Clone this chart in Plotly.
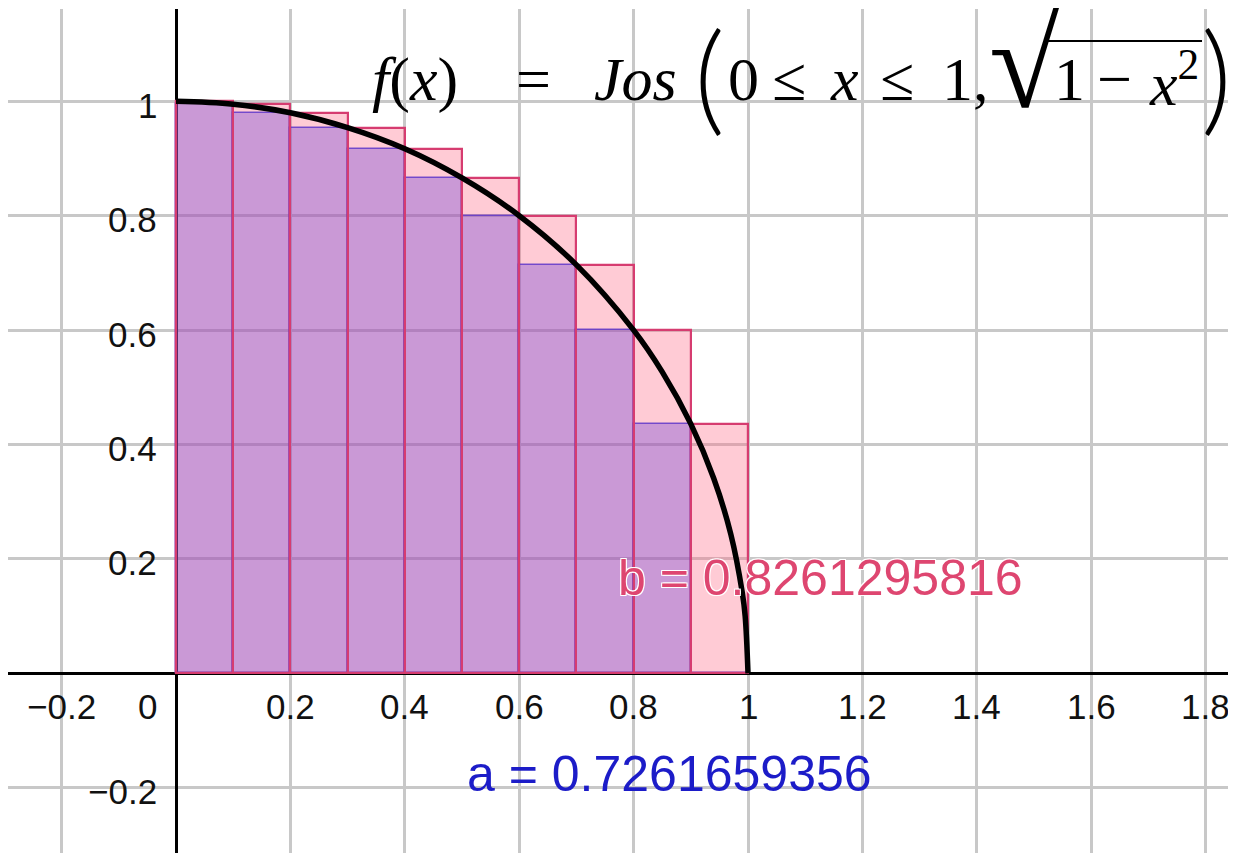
import plotly.graph_objects as go

# ---- data ----
bar_left = [0.0, 0.1, 0.2, 0.3, 0.4, 0.5, 0.6, 0.7, 0.8, 0.9]
upper_heights = [1.000, 0.995, 0.980, 0.954, 0.917, 0.866, 0.800, 0.714, 0.600, 0.436]
lower_heights = [0.995, 0.980, 0.954, 0.917, 0.866, 0.800, 0.714, 0.600, 0.436, 0.000]
curve_x = [0.0, 0.1, 0.2, 0.3, 0.4, 0.5, 0.6, 0.7, 0.8, 0.85, 0.9, 0.94, 0.97, 0.99, 0.995, 1.0]
curve_y = [1.0, 0.995, 0.980, 0.954, 0.917, 0.866, 0.800, 0.714, 0.600, 0.527, 0.436, 0.341, 0.243, 0.141, 0.100, 0.0]
x_tick_vals = [-0.2, 0.2, 0.4, 0.6, 0.8, 1.0, 1.2, 1.4, 1.6, 1.8]
x_tick_text = ["\u22120.2", "0.2", "0.4", "0.6", "0.8", "1", "1.2", "1.4", "1.6", "1.8"]
y_tick_vals = [-0.2, 0.2, 0.4, 0.6, 0.8, 1.0]
y_tick_text = ["\u22120.2", "0.2", "0.4", "0.6", "0.8", "1"]
label_a = "a = 0.7261659356"
label_b = "b = 0.8261295816"

PINK_LINE = "rgb(214,60,112)"
fig = go.Figure()
fig.add_trace(go.Bar(x=bar_left, y=upper_heights, width=0.1, offset=0,
                     marker=dict(color="rgba(255,105,135,0.35)", line=dict(width=0)),
                     showlegend=False, hoverinfo="skip"))
fig.add_trace(go.Bar(x=bar_left, y=lower_heights, width=0.1, offset=0,
                     marker=dict(color="rgba(100,55,216,0.34)",
                                 line=dict(color="rgba(90,50,200,0.8)", width=1.5)),
                     showlegend=False, hoverinfo="skip"))
fig.add_trace(go.Bar(x=bar_left, y=upper_heights, width=0.1, offset=0,
                     marker=dict(color="rgba(0,0,0,0)", line=dict(color=PINK_LINE, width=2.2)),
                     showlegend=False, hoverinfo="skip"))
fig.add_trace(go.Scatter(x=curve_x, y=curve_y, mode="lines",
                         line=dict(color="black", width=5.5, shape="spline", smoothing=1.0),
                         showlegend=False, hoverinfo="skip"))

ann = []
SANS = "Liberation Sans, Arial"
SERIF = "Liberation Serif, Times New Roman"
def label(x, y, text, size, color, xanchor="center", family=SANS, **kw):
    ann.append(dict(x=x, y=y, text=text, xanchor=xanchor, yanchor="middle", showarrow=False,
                    font=dict(family=family, size=size, color=color, **kw)))

for v, t in zip(x_tick_vals, x_tick_text):
    label(v, -0.0589, t, 35, "#111")
label(-0.0498, -0.0589, "0", 35, "#111")
for v, t in zip(y_tick_vals, y_tick_text):
    label(-0.030, v - 0.007, t, 35, "#111", xanchor="right")

halo = "1px 1px 0 white, -1px -1px 0 white, 1px -1px 0 white, -1px 1px 0 white"
label(1.1259, 0.1666, label_b, 50, "rgb(222,70,112)", shadow=halo)
label(0.8636, -0.1760, label_a, 50, "rgb(28,28,200)")

# formula pieces
FY = 1.039
def fpiece(x, text, size=62, y=FY, family=SERIF, **kw):
    label(x, y, text, size, "black", xanchor="left", family=family, **kw)

fpiece(0.3392, "<i>f</i>(<i>x</i>)")
fpiece(0.5909, "=")
fpiece(0.7273, "<i>Jos</i>")
fpiece(0.9021, "(", size=120, y=1.0486, family="Lato", weight=300)
fpiece(0.9615, "0")
fpiece(1.0385, "\u2264")
fpiece(1.1399, "<i>x</i>")
fpiece(1.2272, "\u2264")
fpiece(1.3360, "1,")
fpiece(1.4178, "\u221a", size=130, y=1.0678)
fpiece(1.5315, "1")
fpiece(1.6066, "\u2212")
fpiece(1.6976, "<i>x</i><sup>2</sup>")
fpiece(1.7885, ")", size=120, y=1.0486, family="Lato", weight=300)

fig.update_layout(
    width=1228, height=845,
    margin=dict(l=0, r=0, t=1, b=0),
    paper_bgcolor="white", plot_bgcolor="white",
    barmode="overlay", bargap=0,
    annotations=ann,
    shapes=[dict(type="line", xref="x", yref="y", x0=1.5227, x1=1.7937, y0=1.1054, y1=1.1054,
                 line=dict(color="black", width=2))],
    xaxis=dict(range=[-0.2937, 1.8531], tick0=0, dtick=0.2, showgrid=True,
               gridcolor="rgb(200,200,200)", gridwidth=2.5, showticklabels=False,
               zeroline=True, zerolinecolor="black", zerolinewidth=2.5, showline=False,
               fixedrange=True),
    yaxis=dict(range=[-0.3142, 1.1614], tick0=0, dtick=0.2, showgrid=True,
               gridcolor="rgb(200,200,200)", gridwidth=2.5, showticklabels=False,
               zeroline=True, zerolinecolor="black", zerolinewidth=2.5, showline=False,
               fixedrange=True),
)
fig.write_html("out.html")
